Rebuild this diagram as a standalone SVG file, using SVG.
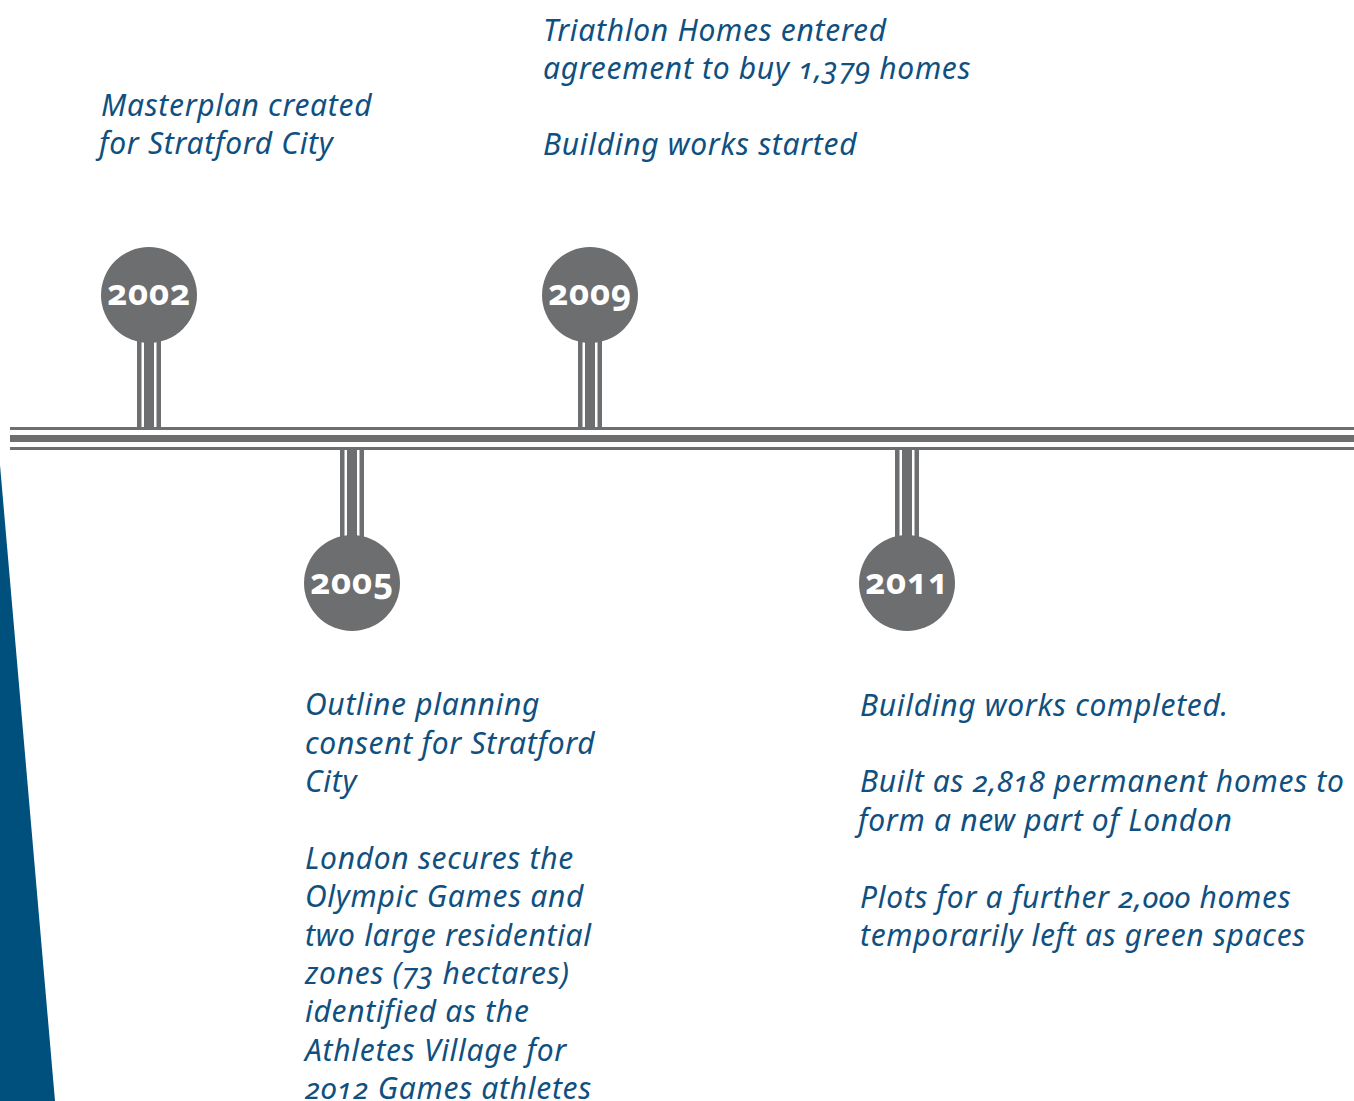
<svg xmlns="http://www.w3.org/2000/svg" width="1354" height="1101" viewBox="0 0 1354 1101">
<style>
.t{font-family:"Noto Sans","Open Sans",sans-serif;font-style:italic;font-size:30px;letter-spacing:0.7px;fill:#0f5080;font-variant-numeric:oldstyle-nums;font-feature-settings:"onum" 1;}
.y{font-family:"Noto Sans","Open Sans",sans-serif;font-weight:bold;font-size:35px;letter-spacing:0.5px;fill:#ffffff;text-anchor:middle;font-variant-numeric:oldstyle-nums;font-feature-settings:"onum" 1;}
.g{fill:#6d6e70;}
</style>
<defs>
<g id="stem">
<rect x="-12" y="0" width="4.5" height="1" class="g"/>
<rect x="-5" y="0" width="10" height="1" class="g"/>
<rect x="7.5" y="0" width="4.5" height="1" class="g"/>
</g>
</defs>
<rect width="1354" height="1101" fill="#ffffff"/>
<polygon points="0,465 55,1101 0,1101" fill="#00507e"/>
<g id="connectors">
<rect x="10" y="427" width="1344" height="3" class="g"/>
<rect x="10" y="435" width="1344" height="7" class="g"/>
<rect x="10" y="447" width="1344" height="3" class="g"/>
<use href="#stem" transform="translate(149,335) scale(1,92)"/>
<use href="#stem" transform="translate(590,335) scale(1,92)"/>
<use href="#stem" transform="translate(352,450) scale(1,92)"/>
<use href="#stem" transform="translate(907,450) scale(1,92)"/>
</g>
<g id="node-2002">
<circle cx="149" cy="295" r="48" class="g"/>
<text class="y" x="149" y="305">2002</text>
<text class="t" x="101" y="116">Masterplan created</text>
<text class="t" x="99" y="154">for Stratford City</text>
</g>
<g id="node-2009">
<circle cx="590" cy="295" r="48" class="g"/>
<text class="y" x="590" y="305">2009</text>
<text class="t" x="543" y="41">Triathlon Homes entered</text>
<text class="t" x="543" y="79">agreement to buy 1,379 homes</text>
<text class="t" x="543" y="155">Building works started</text>
</g>
<g id="node-2005">
<circle cx="352" cy="583" r="48" class="g"/>
<text class="y" x="352" y="594">2005</text>
<text class="t" x="305" y="715">Outline planning</text>
<text class="t" x="305" y="754">consent for Stratford</text>
<text class="t" x="305" y="792">City</text>
<text class="t" x="305" y="869">London secures the</text>
<text class="t" x="305" y="907">Olympic Games and</text>
<text class="t" x="305" y="946">two large residential</text>
<text class="t" x="305" y="984">zones (73 hectares)</text>
<text class="t" x="305" y="1022">identified as the</text>
<text class="t" x="305" y="1061">Athletes Village for</text>
<text class="t" x="305" y="1099">2012 Games athletes</text>
</g>
<g id="node-2011">
<circle cx="907" cy="583" r="48" class="g"/>
<text class="y" x="907" y="594">2011</text>
<text class="t" x="860" y="716">Building works completed.</text>
<text class="t" x="860" y="792">Built as 2,818 permanent homes to</text>
<text class="t" x="858" y="831">form a new part of London</text>
<text class="t" x="860" y="908">Plots for a further 2,000 homes</text>
<text class="t" x="860" y="946">temporarily left as green spaces</text>
</g>
</svg>
